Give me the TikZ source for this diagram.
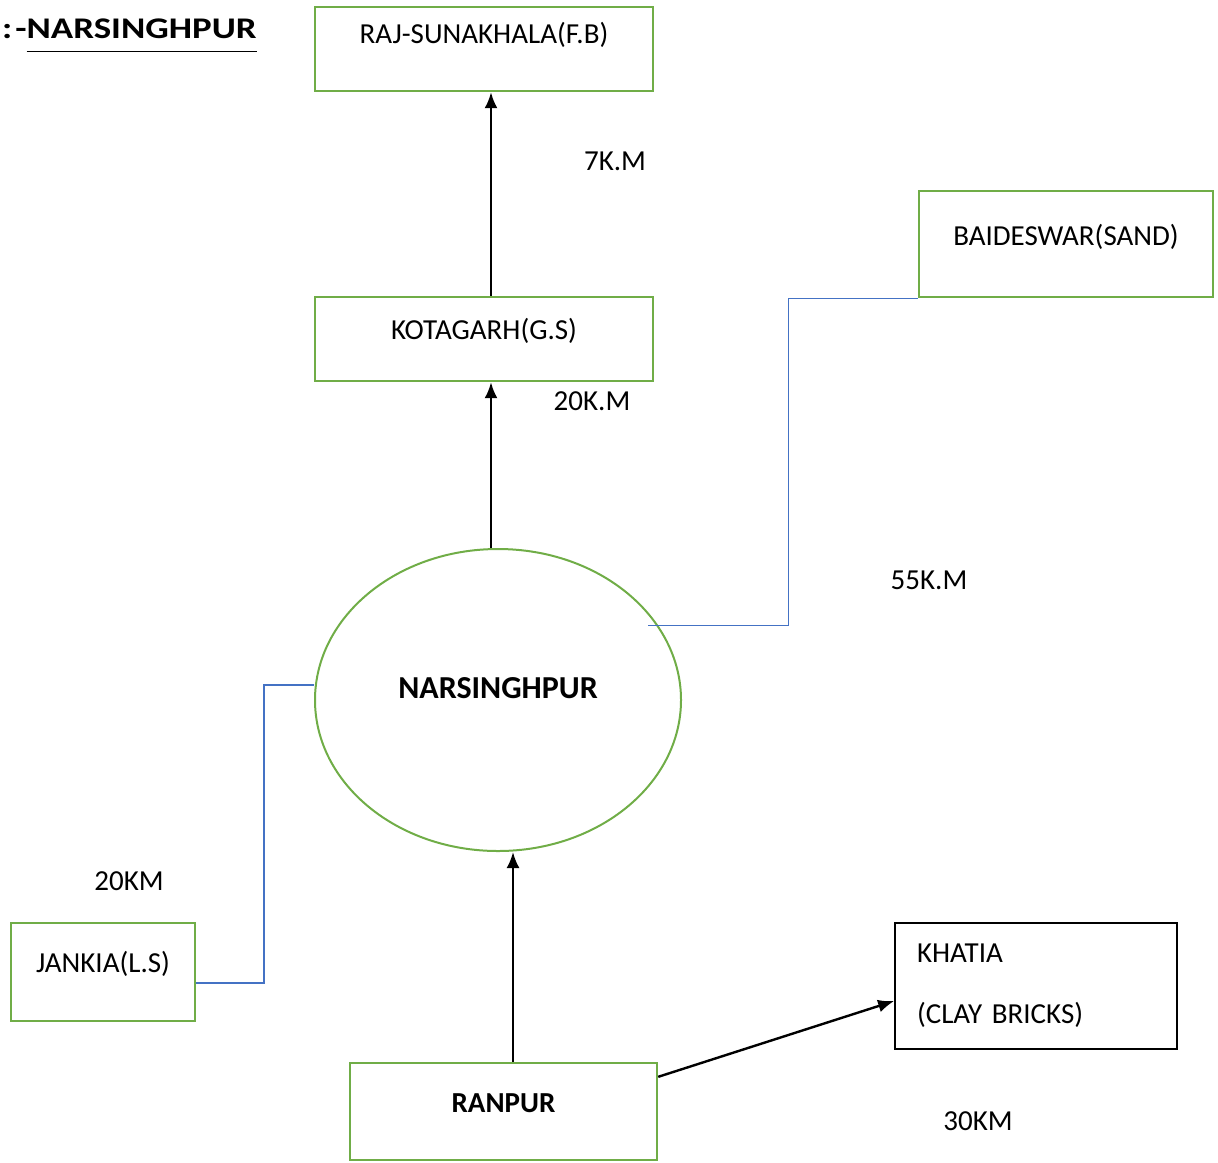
\documentclass[tikz,border=0pt]{standalone}
\usepackage{fontspec}
\setmainfont{Carlito}
\newfontfamily\titlefont{Carlito}[FakeStretch=1.23]
\usepackage{xcolor}
\usetikzlibrary{calc}
\usetikzlibrary{positioning}
\usetikzlibrary{arrows.meta}
\usetikzlibrary{shapes.geometric}
\definecolor{boxgreen}{HTML}{70AD47}
\definecolor{linkblue}{HTML}{4472C4}

\begin{document}
\begin{tikzpicture}[>={Latex[length=8pt,width=6.5pt]}, x=0.5pt, y=-0.5pt, font=\fontsize{14.5}{17.4}\selectfont]
		\tikzstyle{site}=[draw=boxgreen, line width=1.2pt, rectangle, inner sep=0pt]
		\tikzstyle{hub}=[draw=boxgreen, line width=1pt, ellipse, minimum width=183pt, minimum height=151pt, inner sep=0pt]
		\tikzstyle{road}=[->, draw=black, line width=1.2pt]
		\tikzstyle{link}=[draw=linkblue, line width=1.1pt]
		\tikzstyle{annot}=[inner sep=0pt]
		
		\useasboundingbox (0,0) rectangle (1218,1162);
		
		\node[anchor=base east, inner sep=0pt, font=\titlefont\fontsize{15}{18}\selectfont\bfseries] (title) at (257,38) {:\hspace{1.5pt}-\underline{\strut NARSINGHPUR}};
		
		\node[site, minimum width=169pt, text height=18pt, text depth=24pt] (raj) at (484,49) {RAJ-SUNAKHALA(F.B)};
		\node[site, minimum width=169pt, text height=21pt, text depth=21pt] (kota) at (484,339) {KOTAGARH(G.S)};
		\node[site, minimum width=147pt, text height=27pt, text depth=26pt] (baides) at (1066,244) {BAIDESWAR(SAND)};
		\node[hub, text height=10pt, text depth=12pt, font=\fontsize{16}{19}\selectfont\bfseries] (narsing) at (498,700) {NARSINGHPUR};
		\node[site, minimum width=92pt, text height=24.5pt, text depth=24.5pt] (jankia) at (103,972) {JANKIA(L.S)};
		\node[site, minimum width=153.5pt, text height=24.5pt, text depth=24pt, font=\fontsize{14.5}{17.4}\selectfont\bfseries] (ranpur) at (503.5,1111.5) {RANPUR};
		\node[draw=black, line width=0.9pt, rectangle, inner xsep=11pt, inner ysep=0pt, minimum height=63pt, text width=119pt, align=left] (khatia) at (1036,986) {KHATIA\\[13pt](CLAY BRICKS)};
		
		\draw[road] ($(kota.north)+(7,0)$) -- ($(raj.south)+(7,0)$);
		\draw[road] ($(narsing.north)+(-7,0)$) -- ($(kota.south)+(7,0)$);
		\draw[road] ($(ranpur.north)+(9.5,0)$) -- ($(narsing.south)+(15,0)$);
		\draw[road] ($(ranpur.north east)+(0,15)$) -- ($(khatia.west)+(0,15)$);
		
		\draw[link] ($(narsing.west)+(0,-15)$) -- ++(-50,0) |- ($(jankia.east)+(0,11)$);
		\draw[link, line width=0.5pt] ($(narsing.center)+(150,-75)$) -- ++(140,0) |- (baides.south west);
		
		\node[annot] (d7) at (615,161) {7K.M};
		\node[annot] (d20a) at (592,401) {20K.M};
		\node[annot] (d55) at (929,580) {55K.M};
		\node[annot] (d20b) at (129,881) {20KM};
		\node[annot] (d30) at (978,1121) {30KM};
	\end{tikzpicture}
\end{document}
